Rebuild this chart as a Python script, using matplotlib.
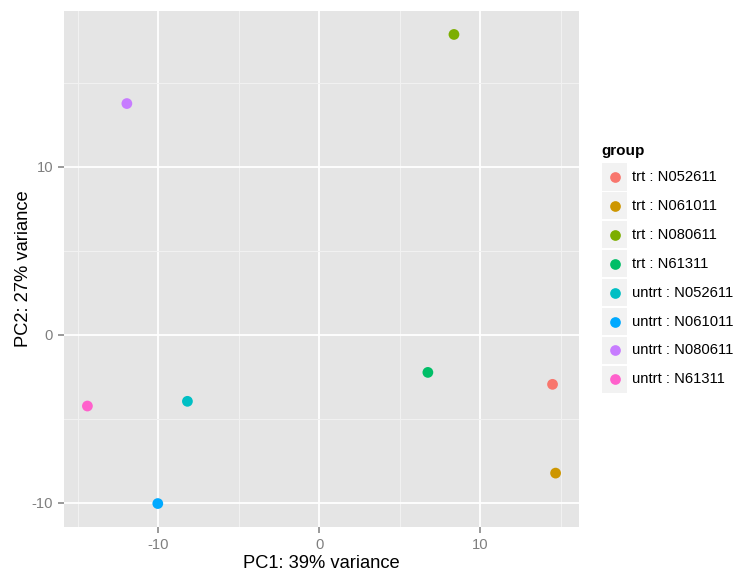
import matplotlib
matplotlib.use("Agg")
import matplotlib.pyplot as plt
from matplotlib.patches import Rectangle
from matplotlib.lines import Line2D

plt.rcParams['font.family'] = ['Liberation Sans', 'DejaVu Sans']
plt.rcParams['axes.unicode_minus'] = False

groups = ["trt : N052611", "trt : N061011", "trt : N080611", "trt : N61311",
          "untrt : N052611", "untrt : N061011", "untrt : N080611", "untrt : N61311"]
pc1 = [14.49, 14.68, 8.37, 6.75, -8.18, -10.02, -11.94, -14.39]
pc2 = [-2.95, -8.23, 17.86, -2.24, -3.96, -10.04, 13.75, -4.24]
colors = ["#F8766D", "#CD9600", "#7CAE00", "#00BE67",
          "#00BFC4", "#00A9FF", "#C77CFF", "#FF61CC"]
xticks = [-10, 0, 10]
yticks = [-10, 0, 10]
xlabel = "PC1: 39% variance"
ylabel = "PC2: 27% variance"
legend_title = "group"

W, H = 733, 577
fig = plt.figure(figsize=(W / 100, H / 100), dpi=100)
L, R, T, B = 64, 579, 11, 527
ax = fig.add_axes([L / W, 1 - B / H, (R - L) / W, (B - T) / H])
ax.set_facecolor("#E5E5E5")

# limits with ggplot-like 5% expansion
xr = max(pc1) - min(pc1)
yr = max(pc2) - min(pc2)
ax.set_xlim(min(pc1) - 0.05 * xr, max(pc1) + 0.05 * xr)
ax.set_ylim(min(pc2) - 0.05 * yr, max(pc2) + 0.05 * yr)

ax.set_xticks(xticks)
ax.set_yticks(yticks)
ax.set_xticks([-15, -5, 5, 15], minor=True)
ax.set_yticks([-5, 5, 15], minor=True)
ax.grid(which="major", color="white", linewidth=1.3)
ax.grid(which="minor", color="#F2F2F2", linewidth=0.7)
ax.set_axisbelow(True)
for s in ax.spines.values():
    s.set_visible(False)
ax.tick_params(which="major", direction="out", length=4.3, width=1.1, color="#7F7F7F",
               labelcolor="#7F7F7F", labelsize=10.6, pad=3.5)
ax.tick_params(which="minor", length=0)

ax.scatter(pc1, pc2, c=colors, s=60, linewidths=0, zorder=3)

ax.set_xlabel(xlabel, fontsize=13.2, color="black", labelpad=2)
ax.set_ylabel(ylabel, fontsize=13.2, color="black", labelpad=0)

# legend, ggplot style
fig.text(601 / W, 1 - 151 / H, legend_title, fontsize=11, fontweight="bold",
         ha="left", va="center")
y0 = 177
step = 28.9
for i, (g, c) in enumerate(zip(groups, colors)):
    yc = y0 + i * step
    fig.patches.append(Rectangle((602 / W, 1 - (yc + 13.5) / H), 25 / W, 27 / H,
                                 transform=fig.transFigure, facecolor="#F2F2F2",
                                 edgecolor="none"))
    fig.lines.append(Line2D([615 / W], [1 - yc / H], transform=fig.transFigure,
                            marker="o", markersize=7.7, markerfacecolor=c,
                            markeredgewidth=0, linestyle="none"))
    fig.text(632 / W, 1 - yc / H, g, fontsize=10.6, ha="left", va="center")

fig.savefig("out.png", dpi=100)
